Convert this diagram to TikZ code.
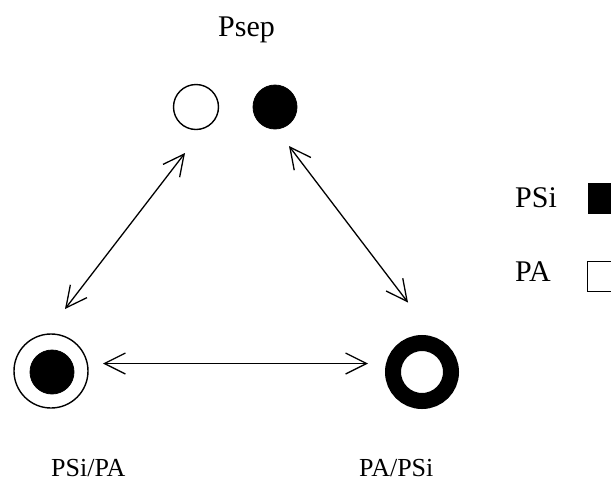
\documentclass[tikz,border=0pt]{standalone}
\usepackage{fontspec}
\setmainfont{Liberation Serif}
\usetikzlibrary{arrows.meta}
\begin{document}
\begin{tikzpicture}[x=1pt,y=-1pt,
  ring/.style={circle,draw=black,line width=1.4pt,inner sep=0pt,fill=white},
  blob/.style={circle,fill=black,draw=black,line width=0.8pt,inner sep=0pt},
  thick ring/.style={circle,draw=black,line width=16pt,inner sep=0pt,fill=white},
  lab/.style={anchor=base west,inner sep=0pt,font=\fontsize{30}{36}\selectfont},
  smalllab/.style={anchor=base west,inner sep=0pt,font=\fontsize{26}{31}\selectfont},
  link/.style={line width=1.3pt,{Straight Barb[length=21pt,width=21pt,line width=1.3pt]}-{Straight Barb[length=21pt,width=21pt,line width=1.3pt]}},
  key/.style={draw=black,line width=1.2pt,minimum width=30pt,minimum height=30pt,inner sep=0pt,anchor=north west}]
\useasboundingbox (0,0) rectangle (611,483);
\fill[white] (0,0) rectangle (611,483);
% top pair
\node[ring,minimum size=45pt] (open) at (196,107) {};
\node[blob,minimum size=44pt] (full) at (275,107) {};
% bottom left: PSi/PA
\node[ring,minimum size=74pt] (blout) at (51,371) {};
\node[blob,minimum size=44pt] (blin) at (52,372) {};
% bottom right: PA/PSi
\node[thick ring,minimum size=58pt] (br) at (422,372) {};
% labels
\node[lab] (psep) at (218,36) {Psep};
\node[smalllab] (l1) at (51,476.5) {PSi/PA};
\node[smalllab] (l2) at (359,476.5) {PA/PSi};
\node[lab] (psi) at (515,207) {PSi};
\node[lab] (pa) at (515,281) {PA};
\node[key,fill=black] (ksi) at (588,183) {};
\node[key,fill=white] (kpa) at (587,261) {};
% arrow end points
\coordinate (a1) at (185,153);
\coordinate (a2) at (65,309);
\coordinate (b1) at (289,146);
\coordinate (b2) at (408,302.5);
\coordinate (c1) at (103,363.5);
\coordinate (c2) at (368,363.5);
\draw[link] (a1) -- (a2);
\draw[link] (b1) -- (b2);
\draw[link] (c1) -- (c2);
\end{tikzpicture}
\end{document}
